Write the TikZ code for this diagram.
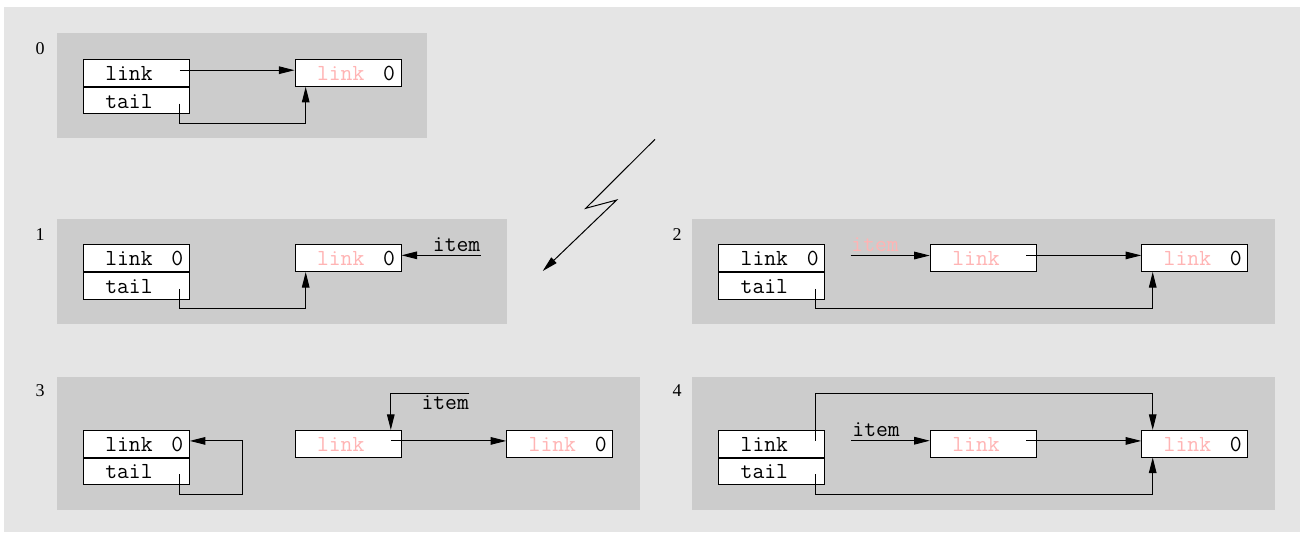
\documentclass[tikz,border=0pt]{standalone}
\usepackage{fontspec}
\setmainfont{Liberation Serif}
\usepackage{xcolor}
\usepackage{tikz}
\usetikzlibrary{arrows.meta,positioning}
\definecolor{outer}{gray}{0.898}
\definecolor{panel}{gray}{0.8}
\definecolor{ghost}{RGB}{255,180,180}
\newcommand{\fld}[1]{\makebox[53pt][l]{\hspace{11pt}#1}}
\newcommand{\lz}{link\hfill 0\hspace{3pt}}
\newcommand{\gz}{\textcolor{ghost}{link}\hfill 0\hspace{3pt}}
\newcommand{\gl}{\textcolor{ghost}{link}}

\begin{document}
\begin{tikzpicture}[x=0.5pt,y=-0.5pt,
    cell/.style={draw,fill=white,line width=0.5pt,inner sep=0pt,minimum height=13.3pt,text height=7.5pt,text depth=0pt,font=\ttfamily\fontsize{11.5}{13}\selectfont},
    tag/.style={inner sep=0pt,font=\ttfamily\fontsize{11.5}{13}\selectfont},
    num/.style={inner sep=0pt,font=\fontsize{9}{10}\selectfont},
    ptr/.style={line width=0.5pt,-{Triangle[length=7.8pt,width=3.8pt]}}]
        \useasboundingbox (0,0) rectangle (1300,532);
        \fill[white] (0,0) rectangle (1300,532);
        \fill[outer] (4,7) rectangle (1300,532);
        \foreach \a/\b/\c/\d in {57/33/427/138,57/219/507/324,692/219/1275/324,57/377/640/510,692/377/1275/510}
          \fill[panel] (\a,\b) rectangle (\c,\d);
        \foreach \i/\x/\y in {0/40/49,1/40/235,2/677/235,3/40/391,4/677/391}
          \node[num] (n\i) at (\x,\y) {\i};

        \node[cell] (p0link) at (136.3,73) {\fld{link}};
        \node[cell,below=0pt of p0link] (p0tail) {\fld{tail}};
        \node[cell] (p0n) at (348,73) {\fld{\gz}};
        \coordinate (p0c) at (305.7,123.3);
        \draw[ptr] ([shift={(-5pt,1.4pt)}]p0link.east) -- ([yshift=1.4pt]p0n.west);
        \draw[ptr] ([shift={(-5pt,-1.5pt)}]p0tail.east) |- (p0c) -- (p0c |- p0n.south);

        \node[cell] (p1link) at (136.3,258.2) {\fld{\lz}};
        \node[cell,below=0pt of p1link] (p1tail) {\fld{tail}};
        \node[cell] (p1n) at (348,258.2) {\fld{\gz}};
        \coordinate (p1c) at (305.7,308.7);
        \coordinate (p1i) at (480.7,255.3);
        \node[tag,anchor=base east] (p1item) at (480.7,251) {item};
        \draw[ptr] (p1i) -- (p1i -| p1n.east);
        \draw[ptr] ([shift={(-5pt,-1.5pt)}]p1tail.east) |- (p1c) -- (p1c |- p1n.south);

        \coordinate (z1) at (655,139.3);
        \coordinate (z2) at (585.7,208.3);
        \coordinate (z3) at (616.7,200);
        \coordinate (z4) at (542.7,271);
        \draw[ptr] (z1) -- (z2) -- (z3) -- (z4);

        \node[cell] (p2link) at (771.7,258.2) {\fld{\lz}};
        \node[cell,below=0pt of p2link] (p2tail) {\fld{tail}};
        \node[cell] (p2m) at (983.3,258.2) {\fld{\gl}};
        \node[cell] (p2n) at (1194.7,258.2) {\fld{\gz}};
        \coordinate (p2c) at (1152.7,308.7);
        \coordinate (p2i) at (850.7,255.5);
        \node[tag,anchor=base west,text=ghost] (p2item) at (851,251.5) {item};
        \draw[ptr] (p2i) -- (p2i -| p2m.west);
        \draw[ptr] ([shift={(-5.3pt,1.4pt)}]p2m.east) -- ([yshift=1.4pt]p2n.west);
        \draw[ptr] ([shift={(-5pt,-1.5pt)}]p2tail.east) |- (p2c) -- (p2c |- p2n.south);

        \node[cell] (p3link) at (136.3,443.7) {\fld{\lz}};
        \node[cell,below=0pt of p3link] (p3tail) {\fld{tail}};
        \node[cell] (p3m) at (348,443.7) {\fld{\gl}};
        \node[cell] (p3n) at (559.7,443.7) {\fld{\gz}};
        \coordinate (p3c) at (242.3,494);
        \coordinate (p3i) at (469.3,393);
        \node[tag,anchor=base east] (p3item) at (469.3,409.3) {item};
        \draw[ptr] ([shift={(-5pt,-1.5pt)}]p3tail.east) |- (p3c) |- ([yshift=1.4pt]p3link.east);
        \draw[ptr] (p3i) -| ([xshift=-5.35pt]p3m.north east);
        \draw[ptr] ([shift={(-5.3pt,1.4pt)}]p3m.east) -- ([yshift=1.4pt]p3n.west);

        \node[cell] (p4link) at (771.7,443.7) {\fld{link}};
        \node[cell,below=0pt of p4link] (p4tail) {\fld{tail}};
        \node[cell] (p4m) at (983.3,443.7) {\fld{\gl}};
        \node[cell] (p4n) at (1194.7,443.7) {\fld{\gz}};
        \coordinate (p4a) at (1152.7,393);
        \coordinate (p4b) at (1152.7,494);
        \coordinate (p4i) at (851,440.7);
        \node[tag,anchor=base west] (p4item) at (852,436.7) {item};
        \draw[ptr] ([shift={(-5pt,1.5pt)}]p4link.east) |- (p4a) -- (p4a |- p4n.north);
        \draw[ptr] ([shift={(-5pt,-1.5pt)}]p4tail.east) |- (p4b) -- (p4b |- p4n.south);
        \draw[ptr] (p4i) -- (p4i -| p4m.west);
        \draw[ptr] ([shift={(-5.3pt,1.4pt)}]p4m.east) -- ([yshift=1.4pt]p4n.west);
      \end{tikzpicture}
\end{document}
